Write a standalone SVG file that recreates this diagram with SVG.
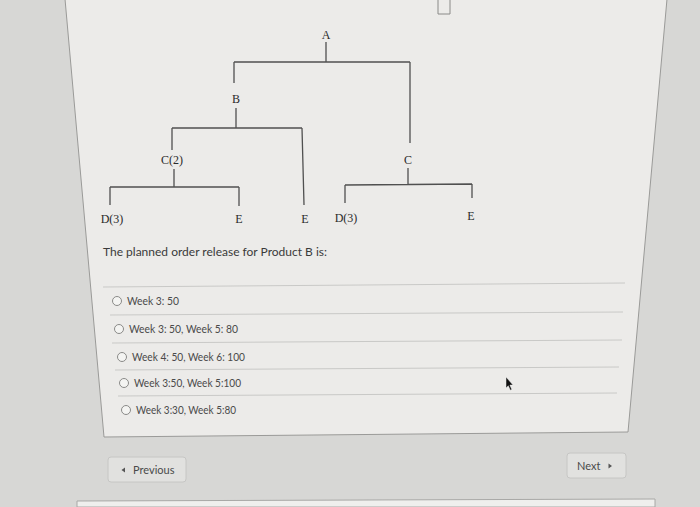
<svg xmlns="http://www.w3.org/2000/svg" width="700" height="507" viewBox="0 0 700 507">
<style>
.bg{fill:#d7d7d5}
.card{fill:#ecebe9;stroke:#9a9a98;stroke-width:1}
.ln{stroke:#505050;stroke-width:1.3;fill:none}
.lbl{font-family:"Liberation Serif","DejaVu Serif",serif;font-size:12px;fill:#2a2a2a;text-anchor:middle}
.q{font-family:Lato,"Liberation Sans",sans-serif;font-size:12px;fill:#3a3a3a}
.opt{font-family:Lato,"Liberation Sans",sans-serif;font-size:10.5px;fill:#4a4a4a}
.sep{stroke:#c9c9c7;stroke-width:1}
.rad{fill:#f4f4f2;stroke:#8a8a88;stroke-width:1}
.btn{fill:#e1e1df;stroke:#c6c6c4;stroke-width:1}
.btxt{font-family:Lato,"Liberation Sans",sans-serif;font-size:11px;fill:#4a4a4a}
</style>
<rect class="bg" x="0" y="0" width="700" height="507"/>
<polygon class="card" points="65,-1 667,-1 628,432 104,437"/>
<path d="M77,507 L77,501 L655,499 L655,507 Z" fill="#efefed" stroke="#a8a8a6" stroke-width="1"/>
<path d="M438,0 V14 H450 V0" fill="none" stroke="#8a8a88" stroke-width="1"/>

<g id="connectors">
<path class="ln" d="M326,42 V62 M234,62 H410 M234,62 V83 M410,62 V143"/>
<path class="ln" d="M236,108 V128 M172,128 H302 M172,128 V150 M302,128 L304,205"/>
<path class="ln" d="M174,169 V187 M110,187 H239 M110,187 V205 M239,187 V206"/>
<path class="ln" d="M408,168 V184 M345,185 L472,184 M345,185 V203 M472,184 V198"/>
</g>

<g id="node-A"><text class="lbl" x="326" y="39">A</text></g>
<g id="node-B"><text class="lbl" x="236" y="103">B</text></g>
<g id="node-C2"><text class="lbl" x="172" y="164">C(2)</text></g>
<g id="node-C"><text class="lbl" x="408" y="164">C</text></g>
<g id="node-D3-left"><text class="lbl" x="112" y="223">D(3)</text></g>
<g id="node-E-1"><text class="lbl" x="239" y="223">E</text></g>
<g id="node-E-2"><text class="lbl" x="305" y="223">E</text></g>
<g id="node-D3-right"><text class="lbl" x="346" y="222">D(3)</text></g>
<g id="node-E-3"><text class="lbl" x="471" y="220">E</text></g>

<text class="q" x="103" y="256" textLength="224" lengthAdjust="spacingAndGlyphs">The planned order release for Product B is:</text>

<line class="sep" x1="103" y1="287" x2="625" y2="283"/>
<line class="sep" x1="110" y1="315" x2="623" y2="312"/>
<line class="sep" x1="112" y1="343" x2="622" y2="340"/>
<line class="sep" x1="115" y1="370" x2="619" y2="367"/>
<line class="sep" x1="118" y1="396" x2="617" y2="393"/>

<g id="opt1"><circle class="rad" cx="117" cy="301" r="4.5"/><text class="opt" x="127" y="305" textLength="52" lengthAdjust="spacingAndGlyphs">Week 3: 50</text></g>
<g id="opt2"><circle class="rad" cx="119" cy="329" r="4.5"/><text class="opt" x="129" y="333" textLength="109" lengthAdjust="spacingAndGlyphs">Week 3: 50, Week 5: 80</text></g>
<g id="opt3"><circle class="rad" cx="122" cy="357" r="4.5"/><text class="opt" x="132" y="361" textLength="113" lengthAdjust="spacingAndGlyphs">Week 4: 50, Week 6: 100</text></g>
<g id="opt4"><circle class="rad" cx="124" cy="383" r="4.5"/><text class="opt" x="134" y="387" textLength="107" lengthAdjust="spacingAndGlyphs">Week 3:50, Week 5:100</text></g>
<g id="opt5"><circle class="rad" cx="126" cy="410" r="4.5"/><text class="opt" x="136" y="414" textLength="100" lengthAdjust="spacingAndGlyphs">Week 3:30, Week 5:80</text></g>

<polygon points="506,377 506,388 508.3,385.8 510.3,390.2 511.8,389.5 509.9,385.1 513,385 Z" fill="#111" stroke="#eee" stroke-width="0.5"/>

<g id="btn-previous">
<rect class="btn" x="108" y="457" width="78" height="25" rx="3"/>
<polygon points="125,467.5 125,472.5 121.5,470" fill="#555"/>
<text class="btxt" x="133" y="474">Previous</text>
</g>
<g id="btn-next">
<rect class="btn" x="567" y="453" width="59" height="25" rx="3"/>
<text class="btxt" x="577" y="470">Next</text>
<polygon points="608.5,463.5 608.5,468.5 612,466" fill="#555"/>
</g>
</svg>
